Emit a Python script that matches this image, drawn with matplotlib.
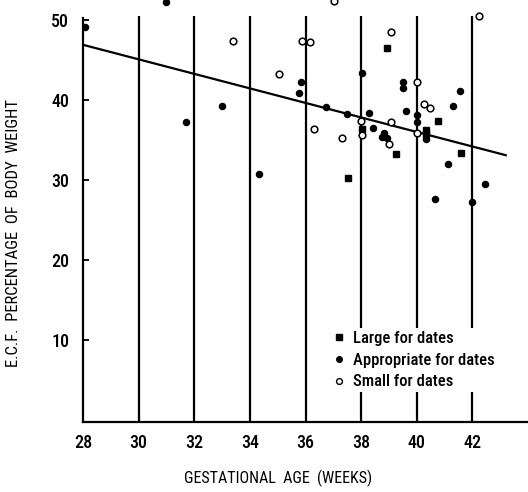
import matplotlib
matplotlib.use("Agg")
import matplotlib.pyplot as plt
from matplotlib.lines import Line2D

plt.rcParams["font.family"] = ["Roboto Condensed", "DejaVu Sans"]

# gestational age (weeks) and ECF % body weight
large_x = [38.92, 38.04, 39.25, 40.34, 40.34, 40.77, 41.60, 37.54]
large_y = [46.5, 36.4, 33.2, 36.3, 35.7, 37.4, 33.4, 30.2]

approp_x = [28.07, 31.0, 31.7, 33.0, 34.33, 35.84, 35.75, 36.72, 37.5, 38.02,
            38.29, 38.44, 38.83, 38.75, 38.92, 39.5, 39.5, 39.6, 40.01, 40.01,
            40.34, 41.56, 41.32, 41.14, 42.46, 40.64, 42.0]
approp_y = [49.1, 52.3, 37.3, 39.25, 30.8, 42.2, 40.9, 39.1, 38.3, 43.4,
            38.4, 36.5, 35.9, 35.4, 35.3, 42.3, 41.5, 38.6, 38.1, 37.3,
            35.1, 41.1, 39.25, 32.0, 29.5, 27.6, 27.3]

small_x = [33.4, 37.04, 35.88, 36.17, 39.07, 35.03, 38.0, 39.09, 36.29, 37.3,
           38.04, 39.0, 40.01, 40.27, 40.47, 40.01, 42.24]
small_y = [47.4, 52.4, 47.4, 47.2, 48.5, 43.25, 37.4, 37.2, 36.4, 35.3,
           35.6, 34.5, 42.3, 39.5, 39.0, 35.9, 50.5]

# regression line end points
fit_x = [28.0, 43.2]
fit_y = [46.9, 33.1]

week_ticks = [28, 30, 32, 34, 36, 38, 40, 42]
ecf_ticks = [10, 20, 30, 40, 50]

fig = plt.figure(figsize=(5.28, 4.92), dpi=100)
ax = fig.add_axes([83 / 528, 70 / 492, 445 / 528, 422 / 492])
ax.set_xlim(28, 44.0)
ax.set_ylim(-0.25, 52.5)

# heavy vertical rules at each labelled week
ax.vlines(week_ticks[1:], -0.25, 50.5, color="black", lw=1.6, zorder=1)

ax.plot(fit_x, fit_y, color="black", lw=1.6, zorder=2)

ax.plot(large_x, large_y, ls="none", marker="s", ms=4.4, color="black", zorder=3)
ax.plot(approp_x, approp_y, ls="none", marker="o", ms=4.4, color="black", zorder=3)
ax.plot(small_x, small_y, ls="none", marker="o", ms=4.8, mfc="white",
        mec="black", mew=1.1, zorder=3)

for side in ["top", "right"]:
    ax.spines[side].set_visible(False)
ax.spines["left"].set_bounds(-0.25, 50.3)
ax.spines["left"].set_linewidth(1.6)
ax.spines["bottom"].set_linewidth(1.6)

ax.set_xticks(week_ticks)
ax.set_xticklabels([str(w) for w in week_ticks], fontweight="medium")
ax.tick_params(axis="x", length=0, pad=9, labelsize=13)
ax.set_yticks(ecf_ticks)
ax.set_yticklabels([str(v) for v in ecf_ticks], fontweight="medium")
ax.tick_params(axis="y", direction="in", length=4.5, width=1.3, pad=10,
               labelsize=13)

fig.text(278 / 528, 1 - 478 / 492, "GESTATIONAL  AGE  (WEEKS)",
         ha="center", va="center", fontsize=11.5)
fig.text(14 / 528, 1 - 233 / 492, "E.C.F.  PERCENTAGE  OF  BODY  WEIGHT",
         ha="center", va="center", rotation=90, fontsize=12)

handles = [
    Line2D([], [], ls="none", marker="s", ms=4, color="black"),
    Line2D([], [], ls="none", marker="o", ms=4, color="black"),
    Line2D([], [], ls="none", marker="o", ms=4.2, mfc="white", mec="black", mew=1.0),
]
labels = ["Large for dates", "Appropriate for dates", "Small for dates"]
leg = ax.legend(handles, labels, loc="upper left",
                bbox_to_anchor=(330 / 528, 1 - 328 / 492),
                bbox_transform=fig.transFigure, frameon=True,
                prop={"size": 12, "weight": "medium"},
                handlelength=0.8, handletextpad=0.45, labelspacing=0.42,
                borderpad=0.15, borderaxespad=0)
leg.get_frame().set_facecolor("white")
leg.get_frame().set_edgecolor("none")
leg.get_frame().set_alpha(1)
leg.set_zorder(5)

fig.savefig("out.png", dpi=100)
